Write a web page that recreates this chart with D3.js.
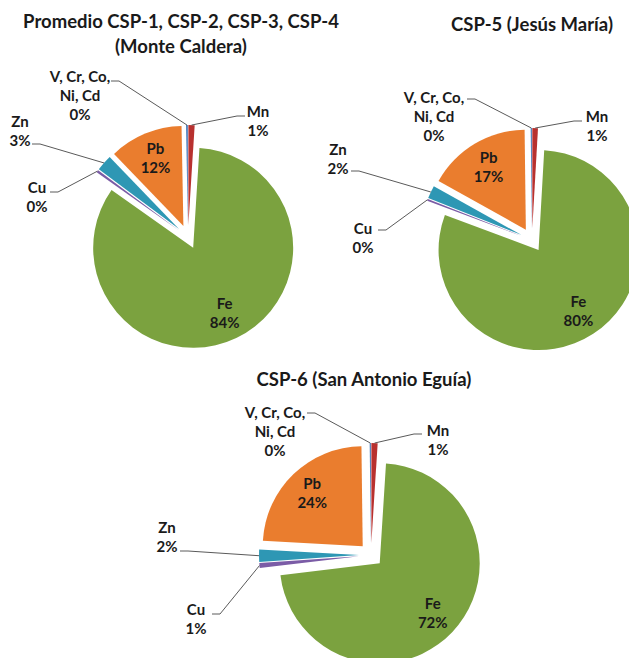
<!DOCTYPE html>
<html>
<head>
<meta charset="utf-8">
<script src="https://cdn.jsdelivr.net/npm/d3@7"></script>
<style>
  body { margin: 0; background: #fff; }
  text { font-family: Lato, "Open Sans", sans-serif; font-weight: bold; fill: #1a1a1a; }
</style>
</head>
<body>
<div id="viz-container"></div>
<script>
// slices, clockwise from 12 o'clock
let elements = ["Mn", "Fe", "Cu", "Zn", "Pb", "V, Cr, Co, Ni, Cd"];
let elementLines = [["Mn"], ["Fe"], ["Cu"], ["Zn"], ["Pb"], ["V, Cr, Co,", "Ni, Cd"]];

// percent of total metals
let monteCaldera = [1.0, 83.8, 0.4, 2.6, 11.9, 0.3];
let jesusMaria   = [0.9, 79.8, 0.3, 2.1, 16.7, 0.2];
let sanAntonio   = [1.0, 72.1, 0.8, 2.0, 23.9, 0.2];

let titles = [
  ["Promedio CSP-1, CSP-2, CSP-3, CSP-4", "(Monte Caldera)"],
  ["CSP-5 (Jesús María)"],
  ["CSP-6 (San Antonio Eguía)"]
];

let colors = ["#b8312f", "#7ba23f", "#7b5ca6", "#2e97b4", "#ea7d2e", "#4f81bd"];

let R = 100, EXPLODE = 12, LINE = 19;

// where things sit, relative to each pie centre
// outside labels: [text dx, text dy, leader dx, leader dy]
let layouts = [
  { cx: 188, cy: 237, tx: 181, ty: [22, 47],
    out: { "Mn": [70, -125, 57, -121], "Cu": [-151, -49, -138, -45],
           "Zn": [-168, -115, -156, -93], "V, Cr, Co, Ni, Cd": [-108, -160, -77, -156] } },
  { cx: 532, cy: 240, tx: 532, ty: [25],
    out: { "Mn": [65, -123, 50, -119], "Cu": [-169, -11, -154, -10],
           "Zn": [-194, -90, -181, -69], "V, Cr, Co, Ni, Cd": [-98, -142, -65, -141] } },
  { cx: 371, cy: 555, tx: 364, ty: [380],
    out: { "Mn": [67, -124, 51, -121], "Cu": [-175, 55, -159, 59],
           "Zn": [-204, -27, -191, -4], "V, Cr, Co, Ni, Cd": [-96, -142, -64, -142] } }
];

let viz = d3.select("#viz-container")
              .append("svg")
                .attr("width", 629)
                .attr("height", 658)
;

let pie = d3.pie().sort(null).value(function(d) { return d.value; });
let arc = d3.arc().innerRadius(0).outerRadius(R);

function dir(a) { return [Math.sin(a), -Math.cos(a)]; }

function drawPie(values, title, lay) {
  let total = d3.sum(values);
  let rows = values.map(function(v, i) {
    return { name: elements[i], lines: elementLines[i], value: v, color: colors[i] };
  });
  let arcs = pie(rows);

  // title
  let t = viz.append("text")
      .attr("text-anchor", "middle")
      .style("font-size", "18.5px");
  title.forEach(function(line, i) {
    t.append("tspan").attr("x", lay.tx).attr("y", lay.ty[i]).attr("dy", "0.35em").text(line);
  });

  let g = viz.append("g").attr("transform", "translate(" + lay.cx + "," + lay.cy + ")");

  // slices, each pushed out along its middle angle
  g.selectAll("path")
    .data(arcs)
    .enter()
    .append("path")
      .attr("d", arc)
      .attr("fill", function(d) { return d.data.color; })
      .attr("transform", function(d) {
        let m = dir((d.startAngle + d.endAngle) / 2);
        return "translate(" + m[0] * EXPLODE + "," + m[1] * EXPLODE + ")";
      });

  arcs.forEach(function(d) {
    let m = dir((d.startAngle + d.endAngle) / 2);
    let pct = Math.round(d.data.value / total * 100) + "%";
    let lines = d.data.lines.concat([pct]);
    let o = lay.out[d.data.name];
    let x, y;
    if (o) {
      // leader line: slice edge -> elbow -> label
      let side = o[2] < 0 ? 1 : -1;
      let pts = [
        [m[0] * (R + EXPLODE), m[1] * (R + EXPLODE)],
        [o[2] + side * 8, o[3]],
        [o[2], o[3]]
      ];
      g.append("path")
        .attr("d", d3.line()(pts))
        .attr("fill", "none")
        .attr("stroke", "#5a5a5a")
        .attr("stroke-width", 1);
      x = o[0]; y = o[1];
    } else {
      let k = EXPLODE + 0.73 * R;
      x = m[0] * k;
      y = m[1] * k - (lines.length - 1) * LINE / 2;
    }
    let lab = g.append("text")
        .attr("text-anchor", "middle")
        .style("font-size", "15px");
    lines.forEach(function(line, i) {
      lab.append("tspan").attr("x", x).attr("y", y + i * LINE).attr("dy", "0.35em").text(line);
    });
  });
}

drawPie(monteCaldera, titles[0], layouts[0]);
drawPie(jesusMaria, titles[1], layouts[1]);
drawPie(sanAntonio, titles[2], layouts[2]);
</script>
</body>
</html>
